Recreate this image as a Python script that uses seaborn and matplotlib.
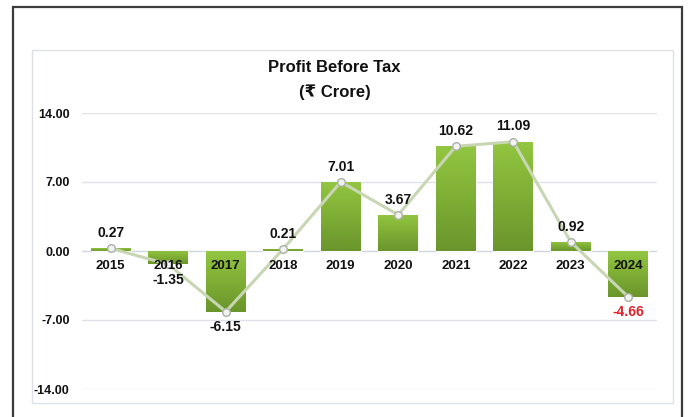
import numpy as np
import pandas as pd
import matplotlib
matplotlib.use("Agg")
import matplotlib.pyplot as plt
from matplotlib.patches import Rectangle
from matplotlib.colors import LinearSegmentedColormap
import seaborn as sns

# Profit before tax by financial year (Rs crore)
years = ["2015", "2016", "2017", "2018", "2019", "2020", "2021", "2022", "2023", "2024"]
profit = [0.27, -1.35, -6.15, 0.21, 7.01, 3.67, 10.62, 11.09, 0.92, -4.66]
y_ticks = [-14, -7, 0, 7, 14]
title_lines = ["Profit Before Tax", "(\u20b9 Crore)"]

sns.set_theme(style="white")
plt.rcParams["font.family"] = ["Liberation Sans", "DejaVu Sans"]
plt.rcParams["font.weight"] = "bold"

df = pd.DataFrame({"year": years, "profit": profit})

W, H = 692, 417
fig = plt.figure(figsize=(W / 100, H / 100), dpi=100)
fig.patch.set_facecolor("white")

def fx(px):
    return px / W

def fy(py):
    return 1 - py / H

# outer frame (open at the bottom edge of the canvas)
fig.add_artist(Rectangle((fx(13), fy(430)), fx(682) - fx(13), fy(7) - fy(430),
                         transform=fig.transFigure, fill=False,
                         edgecolor="#3c3c3c", linewidth=1.6, zorder=0))
# chart area box
fig.add_artist(Rectangle((fx(32), fy(403)), fx(673) - fx(32), fy(50) - fy(403),
                         transform=fig.transFigure, facecolor="white",
                         edgecolor="#dde1e6", linewidth=1.0, zorder=0))

ax = fig.add_axes([fx(82), fy(389), fx(657) - fx(82), fy(113) - fy(389)])
ax.set_facecolor("none")

sns.barplot(data=df, x="year", y="profit", color="#82b536", width=0.69,
            ax=ax, zorder=2, saturation=1)

# vertical green gradient inside each bar
grad_cmap = LinearSegmentedColormap.from_list("bar_green", ["#6a952c", "#7eae35", "#93c641"])
grad = np.linspace(0, 1, 256).reshape(-1, 1)
for patch in ax.patches:
    x0, y0 = patch.get_x(), patch.get_y()
    w, h = patch.get_width(), patch.get_height()
    lo, hi = min(y0, y0 + h), max(y0, y0 + h)
    im = ax.imshow(grad, extent=[x0, x0 + w, lo, hi], origin="lower",
                   aspect="auto", cmap=grad_cmap, zorder=2.5, interpolation="bicubic")
    im.set_clip_path(patch)

# trend line through the values
sns.lineplot(x=np.arange(len(years)), y=profit, ax=ax, color="#c8d6b4",
             linewidth=2.2, marker="o", markersize=5.5, markerfacecolor="#f2f2f2",
             markeredgecolor="#a9b0a6", markeredgewidth=1.0, zorder=4)

ax.set_xlim(-0.5, len(years) - 0.5)
ax.set_ylim(-14, 14)
ax.set_yticks(y_ticks)
ax.set_yticklabels([f"{v:.2f}" for v in y_ticks], fontsize=9, fontweight="bold")
ax.set_xticks([])
ax.set_xlabel("")
ax.set_ylabel("")

for v in y_ticks:
    ax.axhline(v, color="#dfe2e6" if v != 0 else "#cfd6df", linewidth=1.0, zorder=1)

for s in ["left", "right", "top", "bottom"]:
    ax.spines[s].set_visible(False)
ax.tick_params(axis="y", length=0, pad=9, labelcolor="#111111")

# category labels sit just under the zero line, on top of the bars
for i, yr in enumerate(years):
    ax.annotate(yr, (i, 0), xytext=(0, -11), textcoords="offset points",
                ha="center", va="center", fontsize=9.5, fontweight="bold",
                color="#111111", zorder=6)

# value labels
for i, v in enumerate(profit):
    off = 11 if v >= 0 else -11
    ax.annotate(f"{v:.2f}", (i, v), xytext=(0, off), textcoords="offset points",
                ha="center", va="center", fontsize=10, fontweight="bold",
                color="#e3202a" if i == len(profit) - 1 else "#111111", zorder=5)

fig.text(fx(334.5), fy(68), title_lines[0], ha="center", va="center",
         fontsize=12, fontweight="bold", color="#111111")
fig.text(fx(334.5), fy(92), title_lines[1], ha="center", va="center",
         fontsize=12, fontweight="bold", color="#111111")

fig.savefig("out.png", dpi=100)
